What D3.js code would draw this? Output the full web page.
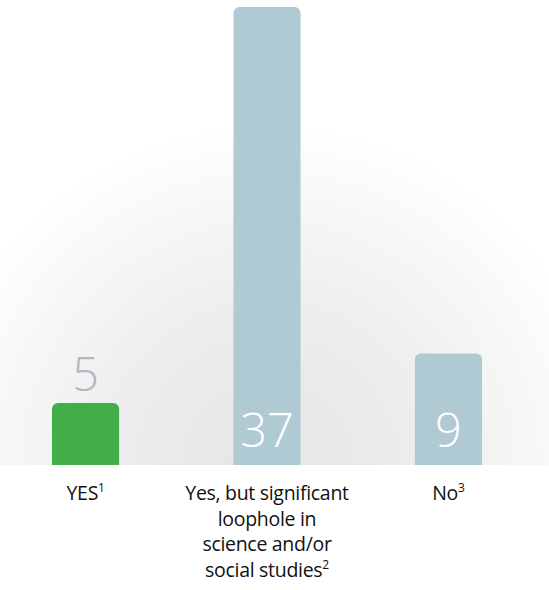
<!DOCTYPE html>
<html>
<head>
<meta charset="utf-8">
<script src="https://cdn.jsdelivr.net/npm/d3@7"></script>
<style>
  html, body { margin: 0; padding: 0; background: #ffffff; }
  svg { display: block; }
</style>
</head>
<body>
<div id="chart"></div>
<script>
// ---- data ----
const categories = ["YES", "Yes, but significant loophole in science and/or social studies", "No"];
const labelLines = [["YES"], ["Yes, but significant", "loophole in", "science and/or", "social studies"], ["No"]];
const footnotes = ["1", "2", "3"];
const values = [5, 37, 9];
const barColors = ["#43ad4a", "#b0cad4", "#b0cad4"];

// ---- layout ----
const W = 549, H = 590;
const baseY = 465;

const svg = d3.select("#chart").append("svg")
  .attr("width", W).attr("height", H);

const defs = svg.append("defs");
const grad = defs.append("radialGradient")
  .attr("id", "bg").attr("gradientUnits", "userSpaceOnUse")
  .attr("cx", 268).attr("cy", 468).attr("r", 345);
grad.append("stop").attr("offset", 0).attr("stop-color", "#e5e5e5");
grad.append("stop").attr("offset", 0.45).attr("stop-color", "#ededed");
grad.append("stop").attr("offset", 0.8).attr("stop-color", "#f8f8f8");
grad.append("stop").attr("offset", 1).attr("stop-color", "#ffffff");

svg.append("rect").attr("x", 0).attr("y", 0).attr("width", W).attr("height", baseY)
  .attr("fill", "url(#bg)");

const x = d3.scaleBand().domain(categories).range([52, 482])
  .paddingInner(0.63).paddingOuter(0);
const y = d3.scaleLinear().domain([0, 37]).range([baseY, 7]);

const r = 6;
function barPath(d, i) {
  const x0 = x(categories[i]), w = x.bandwidth();
  const top = y(d), bot = y(0);
  const p = d3.path();
  p.moveTo(x0, bot);
  p.lineTo(x0, top + r);
  p.arcTo(x0, top, x0 + r, top, r);
  p.lineTo(x0 + w - r, top);
  p.arcTo(x0 + w, top, x0 + w, top + r, r);
  p.lineTo(x0 + w, bot);
  p.closePath();
  return p.toString();
}

svg.append("g").selectAll("path").data(values).join("path")
  .attr("d", (d, i) => barPath(d, i))
  .attr("fill", (d, i) => barColors[i]);

// value labels
const font = "'Open Sans', Lato, sans-serif";
svg.append("g").selectAll("text").data(values).join("text")
  .attr("x", (d, i) => x(categories[i]) + x.bandwidth() / 2)
  .attr("y", d => (y(0) - y(d) > 80) ? baseY - 18 : y(d) - 12)
  .attr("text-anchor", "middle")
  .attr("font-family", font)
  .attr("font-weight", 300)
  .attr("font-size", 47)
  .attr("fill", d => (y(0) - y(d) > 80) ? "#ffffff" : "#b9b3c2")
  .text(d => d);

// category labels
const lab = svg.append("g");
labelLines.forEach((lines, i) => {
  const cx = x(categories[i]) + x.bandwidth() / 2;
  const t = lab.append("text")
    .attr("text-anchor", "middle")
    .attr("font-family", font)
    .attr("font-size", 19.5)
    .attr("letter-spacing", -0.3)
    .attr("fill", "#111111");
  lines.forEach((ln, j) => {
    const ts = t.append("tspan").attr("x", cx).attr("y", 500 + j * 25.5);
    ts.append("tspan").text(ln);
    if (j === lines.length - 1) {
      ts.append("tspan").attr("font-size", 12).attr("dy", -8).text(footnotes[i]);
    }
  });
});
</script>
</body>
</html>
